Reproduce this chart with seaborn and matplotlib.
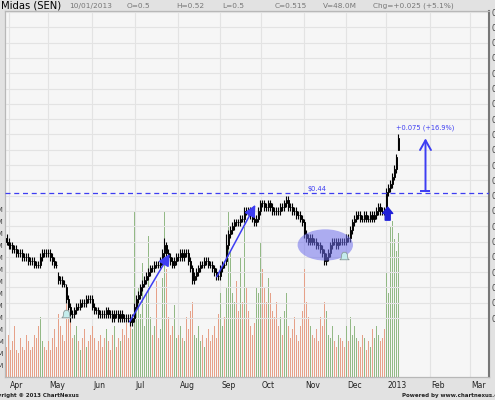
import matplotlib

matplotlib.use("Agg")
import matplotlib.pyplot as plt
import numpy as np
import pandas as pd
import seaborn as sns
from matplotlib.patches import Ellipse
from matplotlib.path import Path

# SGX sessions, 30 Mar 2012 .. 10 Jan 2013 (exchange holidays removed)
start_date = "2012-03-30"
axis_end = "2013-03-29"
holidays = ["2012-04-06", "2012-05-01", "2012-08-09", "2012-08-20",
            "2012-10-26", "2012-11-13", "2012-12-25", "2013-01-01"]

TICK = 0.005  # prices below are in half-cent ticks

opens = [77,
         76, 75, 75, 74, 74, 73, 73, 73, 72, 72, 72, 71, 71, 71, 70, 70, 70, 72, 73, 73,
         73, 73, 72, 71, 70, 67, 66, 66, 65, 64, 61, 59, 57, 57, 58, 59, 59, 60, 60, 60, 61, 61,
         61, 59, 58, 58, 57, 57, 57, 57, 58, 57, 57, 56, 57, 57, 56, 57, 56, 56, 56, 56, 55,
         56, 59, 61, 62, 64, 65, 66, 67, 68, 69, 69, 70, 70, 70, 71, 73, 75, 73, 72, 71, 70, 71,
         72, 72, 73, 72, 73, 73, 71, 69, 66, 67, 68, 69, 70, 70, 71, 71, 70, 70, 69, 68, 67,
         67, 69, 70, 71, 75, 78, 79, 80, 81, 81, 81, 82, 82, 84, 84, 84, 83, 82, 81, 82,
         84, 86, 86, 85, 85, 86, 85, 84, 84, 84, 84, 85, 85, 86, 87, 85, 85, 84, 84, 83, 83, 82,
         81, 78, 77, 76, 77, 76, 76, 75, 75, 74, 73, 71, 72, 73, 75, 76, 76, 75, 76, 76, 76,
         76, 77, 77, 79, 81, 82, 83, 83, 82, 82, 83, 82, 82, 83, 82, 83, 84, 85, 84, 84,
         85, 89, 90, 91, 93, 95, 100]

highs = [78,
         77, 76, 76, 75, 75, 74, 74, 74, 73, 73, 73, 72, 72, 72, 71, 71, 73, 74, 74, 74,
         74, 74, 73, 72, 71, 68, 67, 67, 66, 65, 62, 60, 58, 59, 60, 60, 61, 61, 61, 62, 62, 62,
         62, 60, 59, 59, 58, 58, 58, 59, 59, 58, 58, 58, 58, 58, 58, 58, 57, 57, 57, 57, 57,
         60, 62, 63, 65, 66, 67, 68, 69, 70, 70, 71, 71, 71, 72, 74, 77, 76, 74, 73, 72, 72, 73,
         73, 74, 74, 74, 74, 74, 72, 70, 68, 69, 70, 71, 71, 72, 72, 72, 71, 71, 70, 69, 68,
         70, 71, 71, 78, 79, 80, 81, 82, 82, 82, 83, 83, 85, 85, 85, 85, 84, 83, 83, 85,
         87, 87, 87, 86, 87, 87, 86, 85, 85, 85, 86, 86, 87, 88, 88, 86, 86, 85, 85, 84, 84, 83,
         82, 79, 78, 78, 78, 77, 77, 76, 76, 75, 74, 73, 74, 76, 77, 77, 77, 77, 77, 77, 77,
         78, 78, 80, 82, 83, 84, 84, 84, 83, 84, 84, 83, 84, 84, 84, 85, 86, 86, 85, 85,
         90, 91, 92, 94, 96, 99, 104]

lows = [75,
        74, 74, 73, 73, 72, 72, 72, 71, 71, 71, 70, 70, 70, 69, 69, 69, 69, 71, 72, 72,
        72, 71, 70, 69, 69, 65, 65, 64, 64, 60, 58, 55, 56, 56, 57, 58, 58, 59, 59, 59, 60, 60,
        58, 57, 57, 56, 56, 56, 56, 56, 56, 56, 55, 55, 56, 55, 55, 55, 55, 55, 55, 54, 54,
        55, 58, 60, 61, 63, 64, 65, 66, 67, 68, 68, 69, 69, 69, 70, 72, 72, 71, 70, 69, 69, 70,
        71, 71, 71, 71, 72, 70, 68, 65, 65, 66, 67, 68, 69, 69, 70, 69, 69, 68, 67, 66, 66,
        66, 68, 69, 70, 74, 77, 78, 79, 80, 80, 80, 81, 81, 83, 83, 82, 81, 80, 80, 81,
        83, 85, 84, 84, 84, 84, 83, 83, 83, 83, 83, 84, 84, 85, 84, 84, 83, 83, 82, 82, 81, 80,
        77, 76, 75, 75, 75, 75, 74, 74, 73, 72, 70, 70, 71, 72, 74, 75, 74, 74, 75, 75, 75,
        75, 76, 76, 78, 80, 81, 82, 81, 81, 81, 81, 81, 81, 81, 81, 82, 83, 83, 83, 83,
        84, 88, 89, 90, 92, 94, 100]

closes = [76,
          75, 75, 74, 74, 73, 73, 73, 72, 72, 72, 71, 71, 71, 70, 70, 70, 72, 73, 73, 73,
          73, 72, 71, 70, 70, 66, 66, 65, 65, 61, 59, 57, 57, 58, 59, 59, 60, 60, 60, 61, 61, 61,
          59, 58, 58, 57, 57, 57, 57, 58, 57, 57, 56, 57, 57, 56, 57, 56, 56, 56, 56, 55, 56,
          59, 61, 62, 64, 65, 66, 67, 68, 69, 69, 70, 70, 70, 71, 73, 75, 73, 72, 71, 70, 71, 72,
          72, 73, 72, 73, 73, 71, 69, 66, 67, 68, 69, 70, 70, 71, 71, 70, 70, 69, 68, 67, 67,
          69, 70, 70, 75, 78, 79, 80, 81, 81, 81, 82, 82, 84, 84, 84, 83, 82, 81, 82, 84,
          86, 86, 85, 85, 86, 85, 84, 84, 84, 84, 85, 85, 86, 87, 85, 85, 84, 84, 83, 83, 82, 81,
          78, 77, 76, 77, 76, 76, 75, 75, 74, 73, 71, 72, 73, 75, 76, 76, 75, 76, 76, 76, 76,
          77, 77, 79, 81, 82, 83, 83, 82, 82, 83, 82, 82, 83, 82, 83, 84, 85, 84, 84, 84,
          89, 90, 91, 93, 95, 98, 103]

# volume, millions of shares
volumes = [10,
           14, 9, 12, 17, 9, 8, 13, 10, 9, 14, 12, 9, 10, 14, 13, 17, 20, 12, 10, 9,
           12, 9, 13, 16, 10, 21, 17, 14, 12, 25, 20, 22, 13, 14, 17, 12, 9, 13, 16, 10, 12, 14,
           17, 13, 9, 12, 14, 10, 13, 16, 12, 9, 14, 17, 10, 13, 12, 16, 14, 18, 13, 21, 16,
           55, 25, 30, 21, 38, 17, 28, 47, 20, 14, 17, 32, 13, 16, 33, 55, 36, 20, 14, 17, 24, 13,
           14, 17, 13, 12, 20, 16, 22, 25, 14, 13, 17, 12, 14, 10, 13, 16, 12, 14, 17, 13, 21,
           28, 17, 20, 30, 55, 42, 28, 25, 32, 22, 40, 25, 55, 30, 22, 17, 14, 18, 30, 28,
           45, 36, 30, 25, 33, 28, 22, 20, 25, 17, 20, 14, 22, 28, 17, 13, 16, 20, 14, 12, 17, 22,
           36, 25, 20, 17, 14, 13, 16, 12, 20, 17, 25, 22, 14, 13, 17, 12, 10, 14, 13, 12, 10,
           17, 12, 20, 14, 17, 13, 12, 10, 14, 13, 9, 12, 10, 16, 13, 17, 14, 12, 13, 16,
           35, 28, 50, 52, 46, 42, 48]

# user drawings on the chart (session index, price)
resistance = 0.4435
trend_arrows = [(61.6, 0.2753, 81.6, 0.3638), (105.1, 0.334, 124.4, 0.428)]
base_ellipse = (159.4, 0.3756, 27.7, 0.0409)
alert_bells = [(30.0, 0.285), (168.8, 0.361)]
breakout_arrow = (190.6, 0.408, 0.425)
gain_arrow = (209.5, 0.446, 0.515)

header_items = ["10/01/2013", "O=0.5", "H=0.52", "L=0.5", "C=0.515", "V=48.0M", "Chg=+0.025 (+5.1%)"]
header_x = [69, 127, 176, 222, 275, 323, 373]

sns.set_theme(style="white")
plt.rcParams["font.family"] = ["DejaVu Sans"]

sessions = pd.date_range(start_date, axis_end, freq=pd.offsets.CustomBusinessDay(holidays=holidays))
df = pd.DataFrame({
    "pos": np.arange(len(closes)),
    "open": np.array(opens) * TICK,
    "high": np.array(highs) * TICK,
    "low": np.array(lows) * TICK,
    "close": np.array(closes) * TICK,
    "vol": volumes,
})
df["dir"] = np.where(df["close"] > df["open"], "up", "down")

# month ticks on first session of each month
idx = pd.Series(np.arange(len(sessions)), index=sessions)
firsts = idx.groupby(sessions.to_period("M")).first().iloc[1:]
tick_pos = firsts.values
tick_lab = [("%d" % p.year) if p.month == 1 else p.strftime("%b") for p in firsts.index]

fig = plt.figure(figsize=(4.95, 4.0), dpi=100)
fig.patch.set_facecolor("#e2e2e2")
# 484 px wide for 242 sessions -> exactly 2 px per session
axv = fig.add_axes([5 / 495, 23 / 400, 484 / 495, 366 / 400])
ax = axv.twinx()
axv.set_facecolor("#f6f6f6")

# volume
vol_colors = {"up": "#93b986", "down": "#e6a189"}
axv.bar(df["pos"], df["vol"], width=0.5, color=df["dir"].map(vol_colors).tolist(),
        linewidth=0, antialiased=False, zorder=2)
axv.set_ylim(0, 122)
axv.set_yticks(np.arange(4, 60, 4))
axv.set_yticklabels(["%dM" % v for v in np.arange(4, 60, 4)])
axv.tick_params(axis="y", length=0, pad=1, labelsize=5, labelcolor="#444")
axv.set_xlim(-0.75, 241.25)
axv.set_xticks(tick_pos)
axv.set_xticklabels([])
axv.tick_params(axis="x", length=13, width=0.8, color="#666", direction="out")
axv.grid(axis="x", color="#e3e3e3", lw=0.8, zorder=0)
axv.set_axisbelow(True)
trans = axv.get_xaxis_transform()
for p, lab in zip(tick_pos, tick_lab):
    axv.text(p + 0.6, -0.012, lab, transform=trans, ha="left", va="top", fontsize=5.5, color="#222")

# candles
ax.vlines(df["pos"], df["low"], df["high"], color="black", lw=0.8, zorder=3)
ax.bar(df["pos"], df["close"] - df["open"], bottom=df["open"], width=0.95,
       color=np.where(df["dir"] == "up", "white", "black"), edgecolor="black", lw=0.7, zorder=4)
ax.set_ylim(0.203, 0.6814)
yt = np.arange(0.28, 0.6801, 0.02)
ax.set_yticks(yt)
ax.set_yticklabels(["%.2f" % v for v in yt])
ax.tick_params(axis="y", length=0, pad=1.5, labelsize=5.5, labelcolor="#444")
ax.grid(axis="y", color="#e3e3e3", lw=0.8)
ax.set_axisbelow(True)

for a in (ax, axv):
    for s in a.spines.values():
        s.set_color("#b8b8b8")
        s.set_linewidth(0.8)
ax.spines["right"].set_color("#777")
ax.spines["right"].set_linewidth(1.5)

# drawings
blue = "#3d3df2"
ax.axhline(resistance, color=blue, lw=0.9, dashes=(4, 3), zorder=6)
ax.text(150.3, 0.4448, r"\$0.44", color=blue, fontsize=4.8, ha="left", va="bottom")
for x0, y0, x1, y1 in trend_arrows:
    ax.annotate("", xy=(x1, y1), xytext=(x0, y0),
                arrowprops=dict(arrowstyle="-|>,head_length=0.7,head_width=0.35", color=blue,
                                lw=1.1, shrinkA=0, shrinkB=0, mutation_scale=10), zorder=6)
cx, cy, w, h = base_ellipse
ax.add_patch(Ellipse((cx, cy), w, h, facecolor="#6f6fec", alpha=0.55, edgecolor="none", zorder=5))

bell = Path([(-1, -0.7), (-0.7, -0.4), (-0.6, 0.5), (-0.3, 0.9), (0.3, 0.9), (0.6, 0.5),
             (0.7, -0.4), (1, -0.7), (-1, -0.7)])
bx, by = zip(*alert_bells)
ax.scatter(bx, by, marker=bell, s=45, facecolor="#c4ecec", edgecolor="#8a9a9a", lw=0.6, zorder=6)

bxp, b0, b1 = breakout_arrow
ax.annotate("", xy=(bxp, b1), xytext=(bxp, b0),
            arrowprops=dict(arrowstyle="simple,head_length=0.5,head_width=0.8,tail_width=0.4",
                            color="#2020d8", mutation_scale=9, shrinkA=0, shrinkB=0), zorder=7)

gx, g0, g1 = gain_arrow
ax.annotate("", xy=(gx, g1), xytext=(gx, g0),
            arrowprops=dict(arrowstyle="->,head_length=0.5,head_width=0.28", color=blue,
                            lw=1.4, mutation_scale=14, shrinkA=0, shrinkB=0), zorder=7)
ax.hlines(g0, gx - 2.5, gx + 2.5, color=blue, lw=1.4, zorder=7)
ax.text(194.7, 0.529, "+0.075 (+16.9%)", color=blue, fontsize=4.8, ha="left", va="center")

# header and footer
fig.text(1 / 495, 1 - 6 / 400, "Midas (SEN)", fontsize=7.2, color="black", va="center")
for t, x in zip(header_items, header_x):
    fig.text(x / 495, 1 - 6 / 400, t, fontsize=5.3, color="#777", va="center")
fig.text(-14 / 495, 5 / 400, "Copyright \u00a9 2013 ChartNexus", fontsize=4, fontweight="bold",
         color="#222", va="center")
fig.text(402 / 495, 5 / 400, "Powered by www.chartnexus.com", fontsize=4, fontweight="bold",
         color="#222", va="center")

fig.savefig("out.png", dpi=100, facecolor=fig.get_facecolor())
